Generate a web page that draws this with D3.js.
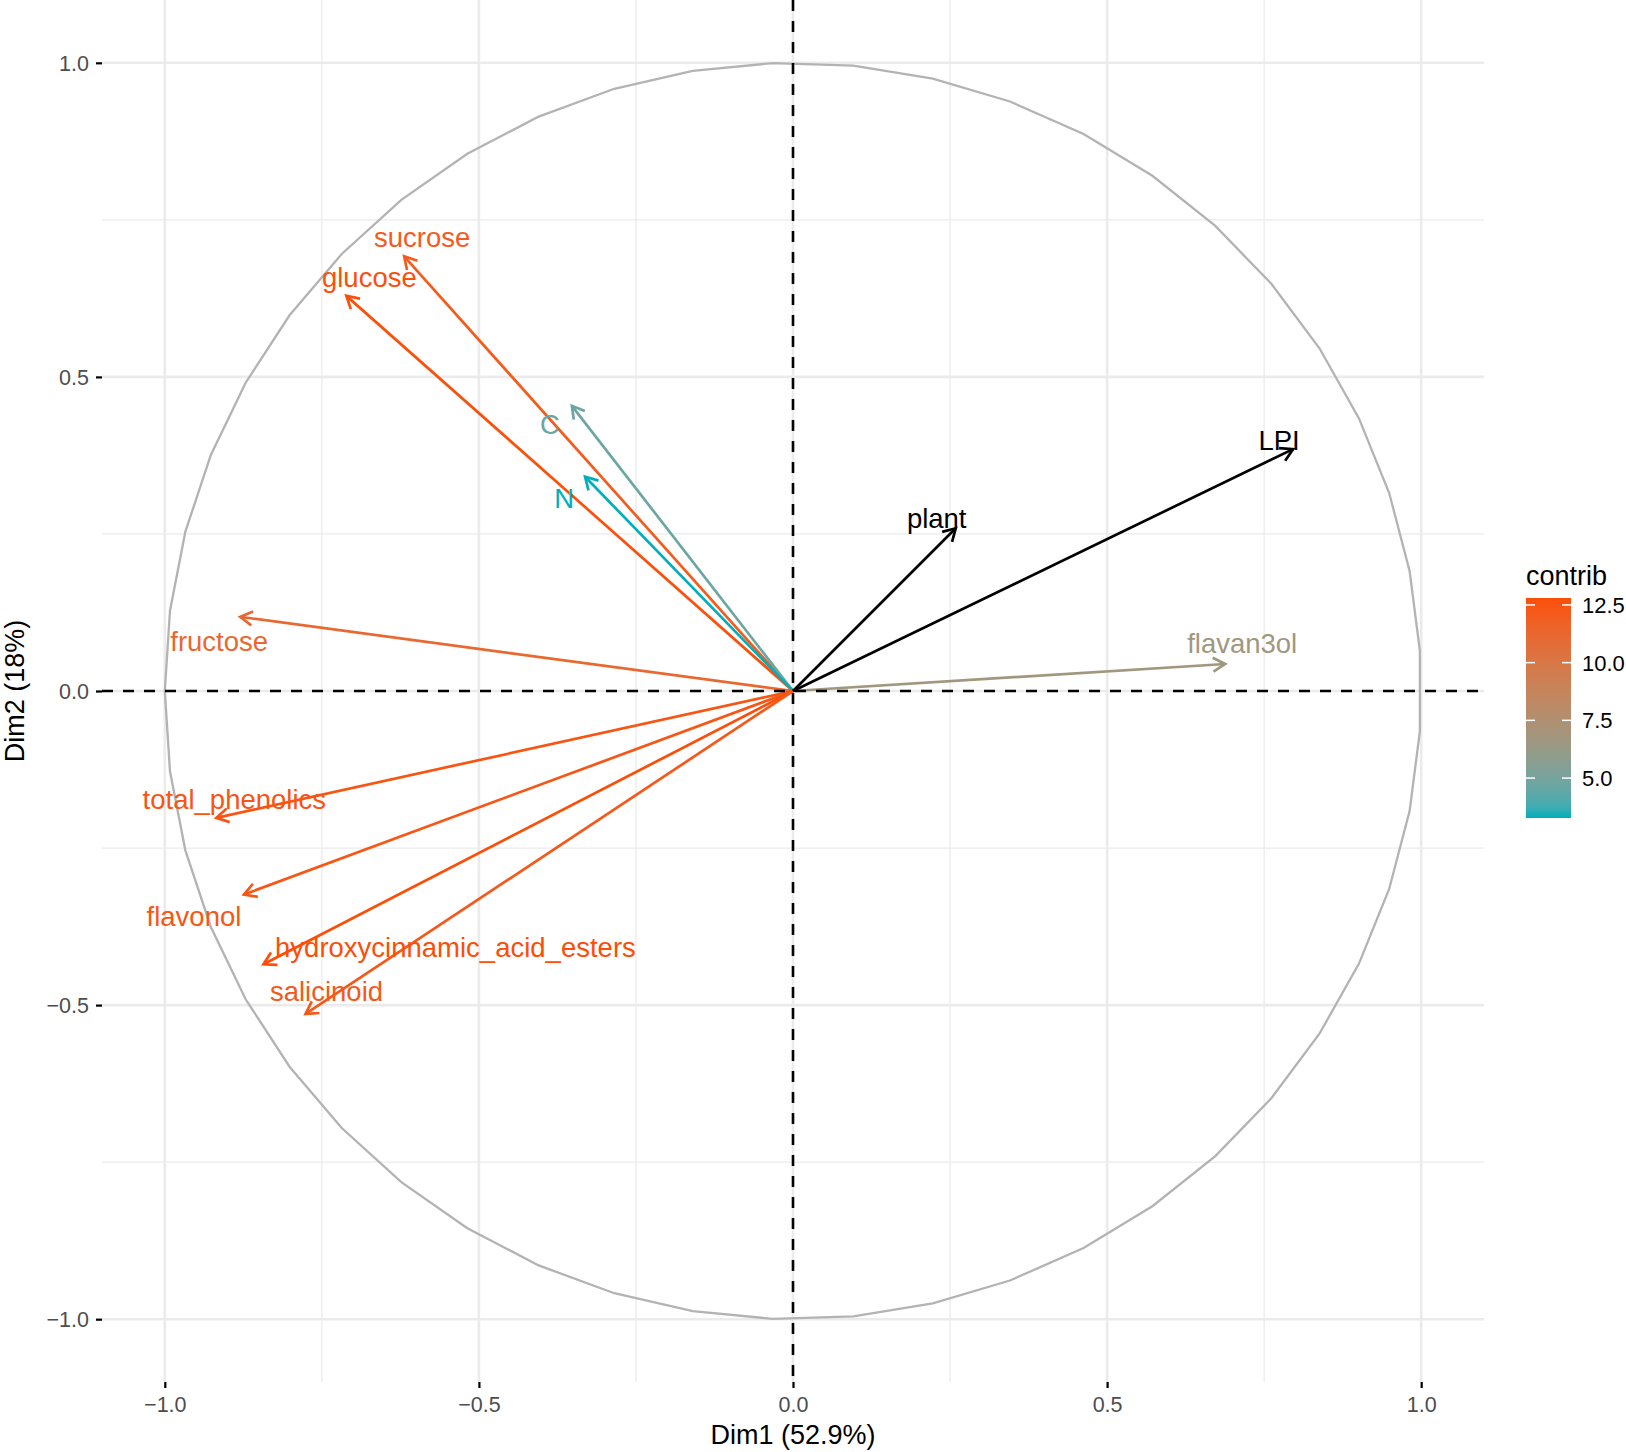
<!DOCTYPE html>
<html>
<head>
<meta charset="utf-8">
<script src="https://cdn.jsdelivr.net/npm/d3@7"></script>
<style>
  body { margin: 0; background: #fff; }
  text { font-family: "Liberation Sans", Arial, Helvetica, sans-serif; }
</style>
</head>
<body>
<svg id="chartArea" width="1626" height="1452"></svg>
<script>
// active variables (coloured by contrib)
const varNames = ["sucrose", "glucose", "C", "N", "fructose", "total_phenolics",
                  "flavonol", "hydroxycinnamic_acid_esters", "salicinoid", "flavan3ol"];
const dim1 = [-0.619, -0.711, -0.352, -0.331, -0.880, -0.918, -0.874, -0.843, -0.776, 0.688];
const dim2 = [0.692, 0.629, 0.454, 0.341, 0.118, -0.202, -0.324, -0.435, -0.514, 0.043];
const contrib = [12.1, 12.7, 4.7, 3.27, 11.2, 12.5, 12.4, 12.8, 12.2, 6.7];

// supplementary variables (black)
const supNames = ["LPI", "plant"];
const supDim1 = [0.796, 0.259];
const supDim2 = [0.385, 0.259];

const majorTicks = [-1.0, -0.5, 0.0, 0.5, 1.0];
const minorTicks = [-0.75, -0.25, 0.25, 0.75];
const legendTicks = [5.0, 7.5, 10.0, 12.5];
const xTitle = "Dim1 (52.9%)";
const yTitle = "Dim2 (18%)";

// label placement (px, text centre x / baseline y relative to arrow tip)
const labelOffset = {
  sucrose: [18, -9], glucose: [23, -9], C: [-22, 28], N: [-21, 31],
  fructose: [-21, 34], total_phenolics: [18, -9], flavonol: [-50, 31],
  hydroxycinnamic_acid_esters: [192, -7], salicinoid: [21, -13],
  flavan3ol: [17, -11], LPI: [-14, 1], plant: [-19, 0]
};

const svg = d3.select("#chartArea");
const panel = {left: 102, right: 1484, top: 0, bottom: 1382};

const x = d3.scaleLinear().domain([-1.1, 1.1]).range([panel.left, panel.right]);
const y = d3.scaleLinear().domain([-1.1, 1.1]).range([panel.bottom, panel.top]);

const color = d3.scaleLinear()
  .domain(d3.extent(contrib))
  .range(["#00AFBB", "#FC4E07"])
  .interpolate(d3.interpolateLab);

const grid = svg.append("g");
minorTicks.forEach(t => {
  grid.append("line").attr("x1", x(t)).attr("x2", x(t)).attr("y1", panel.top).attr("y2", panel.bottom)
    .attr("stroke", "#EBEBEB").attr("stroke-width", 1.3);
  grid.append("line").attr("y1", y(t)).attr("y2", y(t)).attr("x1", panel.left).attr("x2", panel.right)
    .attr("stroke", "#EBEBEB").attr("stroke-width", 1.3);
});
majorTicks.forEach(t => {
  grid.append("line").attr("x1", x(t)).attr("x2", x(t)).attr("y1", panel.top).attr("y2", panel.bottom)
    .attr("stroke", "#EBEBEB").attr("stroke-width", 2.6);
  grid.append("line").attr("y1", y(t)).attr("y2", y(t)).attr("x1", panel.left).attr("x2", panel.right)
    .attr("stroke", "#EBEBEB").attr("stroke-width", 2.6);
});

// axes
const fmt = d => d3.format(".1f")(d).replace("-", "\u2212");
const xAxis = svg.append("g")
  .attr("transform", `translate(0, ${panel.bottom})`)
  .call(d3.axisBottom(x).tickValues(majorTicks).tickSize(6).tickPadding(9).tickFormat(fmt));
const yAxis = svg.append("g")
  .attr("transform", `translate(${panel.left}, 0)`)
  .call(d3.axisLeft(y).tickValues(majorTicks).tickSize(6).tickPadding(7).tickFormat(fmt));
[xAxis, yAxis].forEach(a => {
  a.select(".domain").remove();
  a.selectAll(".tick line").attr("stroke", "#000").attr("stroke-width", 2.2);
  a.selectAll(".tick text").attr("fill", "#4D4D4D").style("font-size", "21.5px");
});
yAxis.selectAll(".tick text").attr("dy", "0.36em");

svg.append("text")
  .attr("x", x(0)).attr("y", 1444)
  .attr("text-anchor", "middle")
  .style("font-size", "27px")
  .text(xTitle);
svg.append("text")
  .attr("transform", `translate(24, ${y(0)}) rotate(-90)`)
  .attr("text-anchor", "middle")
  .style("font-size", "27px")
  .text(yTitle);

// correlation circle
const theta = d3.range(50).map(i => -Math.PI + i * 2 * Math.PI / 49);
svg.append("path")
  .datum(theta)
  .attr("fill", "none")
  .attr("stroke", "#B3B3B3")
  .attr("stroke-width", 2.3)
  .attr("d", d3.line().x(t => x(Math.cos(t))).y(t => y(Math.sin(t))));

// arrows
function drawArrow(px, py, col) {
  const x0 = x(0), y0 = y(0), x1 = x(px), y1 = y(py);
  const ang = Math.atan2(y1 - y0, x1 - x0);
  const len = 14, a = Math.PI / 6;
  const h1 = [x1 - len * Math.cos(ang - a), y1 - len * Math.sin(ang - a)];
  const h2 = [x1 - len * Math.cos(ang + a), y1 - len * Math.sin(ang + a)];
  const g = svg.append("g").attr("stroke", col).attr("stroke-width", 2.7)
    .attr("fill", "none").attr("stroke-linecap", "butt");
  g.append("line").attr("x1", x0).attr("y1", y0).attr("x2", x1).attr("y2", y1);
  g.append("path").attr("stroke-linejoin", "miter")
    .attr("d", `M${h1[0]},${h1[1]}L${x1},${y1}L${h2[0]},${h2[1]}`);
}

varNames.forEach((v, i) => drawArrow(dim1[i], dim2[i], color(contrib[i])));
supNames.forEach((v, i) => drawArrow(supDim1[i], supDim2[i], "#000"));

// dashed reference lines
svg.append("line").attr("x1", panel.left).attr("x2", panel.right).attr("y1", y(0)).attr("y2", y(0))
  .attr("stroke", "#000").attr("stroke-width", 2.6).attr("stroke-dasharray", "11,10");
svg.append("line").attr("x1", x(0)).attr("x2", x(0)).attr("y1", panel.top).attr("y2", panel.bottom)
  .attr("stroke", "#000").attr("stroke-width", 2.6).attr("stroke-dasharray", "11,10");

// labels
varNames.forEach((v, i) => {
  const o = labelOffset[v];
  svg.append("text")
    .attr("x", x(dim1[i]) + o[0]).attr("y", y(dim2[i]) + o[1])
    .attr("text-anchor", "middle")
    .attr("fill", color(contrib[i]))
    .style("font-size", "27.5px")
    .text(v);
});
supNames.forEach((v, i) => {
  const o = labelOffset[v];
  svg.append("text")
    .attr("x", x(supDim1[i]) + o[0]).attr("y", y(supDim2[i]) + o[1])
    .attr("text-anchor", "middle")
    .attr("fill", "#000")
    .style("font-size", "27.5px")
    .text(v);
});

// legend colour bar
const barX = 1526, barW = 45, barTop = 598, barBottom = 818;
const [lo, hi] = d3.extent(contrib);
const legY = d3.scaleLinear().domain([lo, hi]).range([barBottom, barTop]);
const grad = svg.append("defs").append("linearGradient")
  .attr("id", "contribGrad").attr("x1", 0).attr("x2", 0).attr("y1", 1).attr("y2", 0);
d3.range(21).forEach(i => {
  const t = i / 20;
  grad.append("stop").attr("offset", t).attr("stop-color", color(lo + t * (hi - lo)));
});
svg.append("rect")
  .attr("x", barX).attr("y", barTop).attr("width", barW).attr("height", barBottom - barTop)
  .attr("fill", "url(#contribGrad)");
legendTicks.forEach(t => {
  svg.append("line").attr("x1", barX).attr("x2", barX + 9).attr("y1", legY(t)).attr("y2", legY(t))
    .attr("stroke", "#fff").attr("stroke-width", 1.5);
  svg.append("line").attr("x1", barX + barW - 9).attr("x2", barX + barW).attr("y1", legY(t)).attr("y2", legY(t))
    .attr("stroke", "#fff").attr("stroke-width", 1.5);
  svg.append("text").attr("x", barX + barW + 11).attr("y", legY(t)).attr("dy", "0.36em")
    .style("font-size", "22px").attr("fill", "#000")
    .text(d3.format(".1f")(t));
});
svg.append("text").attr("x", barX).attr("y", 585)
  .style("font-size", "27px").text("contrib");
</script>
</body>
</html>
